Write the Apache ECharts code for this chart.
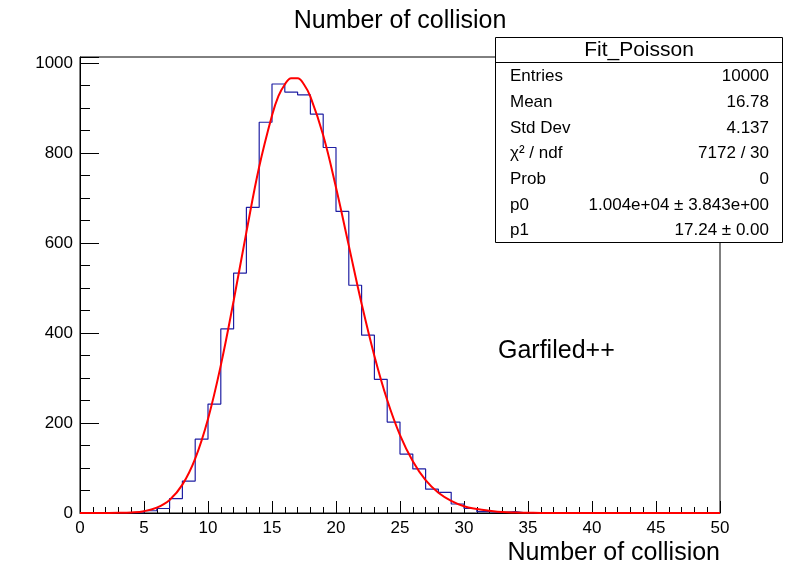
<!DOCTYPE html>
<html><head><meta charset="utf-8">
<script src="https://cdn.jsdelivr.net/npm/echarts@6/dist/echarts.min.js"></script>
<style>html,body{margin:0;padding:0;background:#fff}#c{width:800px;height:572px}</style>
</head><body><div id="c"></div>
<script>
// Histogram: bins of width 1 from 0 to 50, counts per bin
const binStart = 0;
const binWidth = 1;
const binCounts = [0,0,0,0,0,5,10,32,71,164,242,409,533,679,868,953,935,929,886,812,670,506,395,297,202,131,98,53,46,20,10,3,1,3,0,0,0,0,0,0,0,0,0,0,0,0,0,0,0,0];
// Fit curve
const fitX = [0,1,2,3,4,5,6,7,8,9,10,11,12,13,14,15,15.5,16,16.5,17,17.5,18,19,20,21,22,23,24,25,26,27,28,29,30,31,32,33,34,35,36,37,38,39,40,41,42,43,44,45,46,47,48,49,50];
const fitY = [0,0,0.05,0.3,1.2,4,12,29,63,121,209,328,471,624,769,883,926,952,966,966,952,925,839,723,594,465,349,251,173,115,73,45,27,15,9,5,2,1,0.6,0,0,0,0,0,0,0,0,0,0,0,0,0,0,0];
const xTicks = [0,5,10,15,20,25,30,35,40,45,50];
const yTicks = [0,200,400,600,800,1000];
const statsTitle = 'Fit_Poisson';
const statsLabels = ['Entries','Mean','Std Dev','\u03c7\u00b2 / ndf','Prob','p0','p1'];
const statsValues = ['10000','16.78','4.137','7172 / 30','0','1.004e+04 \u00b1 3.843e+00','17.24 \u00b1 0.00'];
const titleText = 'Number of collision';
const xTitleText = 'Number of collision';
const noteText = 'Garfiled++';

const FONT = '"Liberation Sans", Arial, Helvetica, sans-serif';
const histData = binCounts.map((c, i) => [binStart + i * binWidth, c]);
histData.push([binStart + binCounts.length * binWidth, binCounts[binCounts.length - 1]]);
const fitData = fitX.map((x, i) => [x, fitY[i]]);

const boxX = 495.5, boxY = 37.5, boxW = 287, boxH = 205;
const graphic = [
  {type:'rect', z:100, shape:{x:boxX, y:boxY, width:boxW, height:boxH}, style:{fill:'#fff', stroke:'#000', lineWidth:1}},
  {type:'line', z:101, shape:{x1:boxX, y1:62.5, x2:boxX+boxW, y2:62.5}, style:{stroke:'#000', lineWidth:1}},
  {type:'text', z:101, x:boxX + boxW/2, y:50, style:{text:statsTitle, font:'21px ' + FONT, fill:'#000', align:'center', verticalAlign:'middle'}}
];
statsLabels.forEach((lab, i) => {
  const y = 76.5 + i * 25.7;
  graphic.push({type:'text', z:101, x:510, y:y, style:{text:lab, font:'17px ' + FONT, fill:'#000', align:'left', verticalAlign:'middle'}});
  graphic.push({type:'text', z:101, x:769, y:y, style:{text:statsValues[i], font:'17px ' + FONT, fill:'#000', align:'right', verticalAlign:'middle'}});
});

const chart = echarts.init(document.getElementById('c'), null, {renderer:'canvas'});
chart.setOption({
  animation:false,
  backgroundColor:'#fff',
  title:[
    {text:titleText, left:'center', top:9, padding:0, textStyle:{fontFamily:FONT, fontSize:25, fontWeight:'normal', color:'#000'}},
    {text:xTitleText, right:80, top:541, padding:0, textStyle:{fontFamily:FONT, fontSize:25, fontWeight:'normal', color:'#000'}},
    {text:noteText, left:498, top:339, padding:0, textStyle:{fontFamily:FONT, fontSize:25, fontWeight:'normal', color:'#000'}}
  ],
  grid:{left:80, right:80, top:57, bottom:59, show:true, borderColor:'#000', borderWidth:1, backgroundColor:'transparent'},
  xAxis:{
    type:'value', min:xTicks[0], max:xTicks[xTicks.length-1], interval:xTicks[1]-xTicks[0],
    axisLine:{show:true, lineStyle:{color:'#000', width:1}},
    axisTick:{show:true, inside:true, length:12, lineStyle:{color:'#000'}},
    minorTick:{show:true, splitNumber:5, length:6, lineStyle:{color:'#000'}},
    splitLine:{show:false}, minorSplitLine:{show:false},
    axisLabel:{color:'#000', fontFamily:FONT, fontSize:17, margin:7}
  },
  yAxis:[{
    type:'value', position:'left', offset:0, min:yTicks[0], max:1013, interval:yTicks[1]-yTicks[0],
    axisLine:{show:true, lineStyle:{color:'#000', width:1}},
    axisTick:{show:true, inside:true, length:19, lineStyle:{color:'#000'}},
    splitLine:{show:false},
    axisLabel:{color:'#000', fontFamily:FONT, fontSize:17, margin:7,
      formatter:v => yTicks.indexOf(v) >= 0 ? String(v) : ''}
  },{
    type:'value', position:'left', offset:0, min:yTicks[0], max:1013, interval:(yTicks[1]-yTicks[0])/4,
    axisLine:{show:false},
    axisTick:{show:true, inside:true, length:10, lineStyle:{color:'#000'}},
    splitLine:{show:false},
    axisLabel:{show:false}
  }],
  series:[
    {type:'line', name:'hist', data:histData, step:'end', symbol:'none', z:3,
     lineStyle:{color:'#1f1fa3', width:1.2}},
    {type:'line', name:'fit', data:fitData, smooth:0.4, symbol:'none', z:4,
     lineStyle:{color:'#ff0000', width:2}}
  ],
  graphic:graphic
});
</script></body></html>
